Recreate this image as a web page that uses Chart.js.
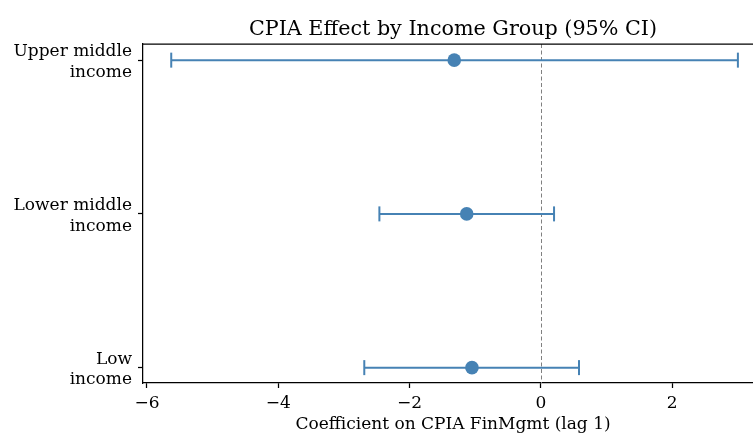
<!DOCTYPE html>
<html>
<head>
<meta charset="utf-8">
<script src="https://cdn.jsdelivr.net/npm/chart.js@4"></script>
<style>
  html, body { margin: 0; padding: 0; background: #fff; }
  #wrap { width: 753px; height: 433px; }
</style>
</head>
<body>
<div id="wrap"><canvas id="c" width="753" height="433"></canvas></div>
<script>
// Income groups, top to bottom
const groups = [["Upper middle", "income"], ["Lower middle", "income"], ["Low", "income"]];
// Point estimates and 95% confidence bounds
const coef   = [-1.32, -1.13, -1.05];
const ciLow  = [-5.63, -2.46, -2.69];
const ciHigh = [ 3.00,  0.20,  0.58];
const xTicks = [-6, -4, -2, 0, 2];

const BLUE = '#4682b4';
const FONT = "'DejaVu Serif', serif";

// One line dataset per interval
const intervalSets = groups.map((g, i) => ({
  type: 'line',
  data: [{ x: ciLow[i], y: i }, { x: ciHigh[i], y: i }],
  borderColor: BLUE,
  borderWidth: 2,
  pointRadius: 0,
  showLine: true,
  order: 2
}));

// Caps at both ends of each interval
const caps = [];
groups.forEach((g, i) => {
  caps.push({ x: ciLow[i], y: i });
  caps.push({ x: ciHigh[i], y: i });
});

const frame = {
  id: 'frame',
  beforeDatasetsDraw(chart) {
    const { ctx, chartArea: a, scales } = chart;
    // zero reference line
    const x0 = scales.x.getPixelForValue(0);
    ctx.save();
    ctx.strokeStyle = '#808080';
    ctx.lineWidth = 1;
    ctx.setLineDash([4, 2.5]);
    ctx.beginPath();
    ctx.moveTo(Math.round(x0) + 0.5, a.top);
    ctx.lineTo(Math.round(x0) + 0.5, a.bottom);
    ctx.stroke();
    ctx.restore();
  },
  afterDraw(chart) {
    const { ctx, chartArea: a } = chart;
    ctx.save();
    // top spine
    ctx.strokeStyle = '#000';
    ctx.lineWidth = 1.25;
    ctx.beginPath();
    ctx.moveTo(a.left, a.top);
    ctx.lineTo(chart.width, a.top);
    ctx.stroke();
    // title and x-axis label
    ctx.fillStyle = '#000';
    ctx.textAlign = 'center';
    ctx.textBaseline = 'alphabetic';
    ctx.font = `20.7px ${FONT}`;
    ctx.fillText('CPIA Effect by Income Group (95% CI)', 453, 35);
    ctx.font = `17px ${FONT}`;
    ctx.fillText('Coefficient on CPIA FinMgmt (lag 1)', 453, 429);
    ctx.restore();
  }
};

new Chart(document.getElementById('c'), {
  type: 'scatter',
  data: {
    datasets: [
      ...intervalSets,
      {
        data: caps,
        pointStyle: 'line',
        rotation: 90,
        pointRadius: 7.5,
        pointBorderWidth: 2,
        borderColor: BLUE,
        backgroundColor: BLUE,
        order: 1
      },
      {
        data: coef.map((v, i) => ({ x: v, y: i })),
        pointRadius: 6.8,
        pointBorderWidth: 0,
        backgroundColor: BLUE,
        borderColor: BLUE,
        order: 0
      }
    ]
  },
  options: {
    responsive: false,
    animation: false,
    layout: { autoPadding: false, padding: { top: 44, right: 0, left: 0, bottom: 0 } },
    plugins: { legend: { display: false }, tooltip: { enabled: false }, title: { display: false } },
    scales: {
      x: {
        type: 'linear',
        min: -6.06,
        max: 3.23,
        afterBuildTicks(s) { s.ticks = xTicks.map(v => ({ value: v })); },
        afterFit(s) { s.height = 50; },
        ticks: {
          color: '#000',
          font: { family: FONT, size: 17 },
          padding: 5,
          maxRotation: 0,
          callback: v => String(v).replace('-', '\u2212')
        },
        grid: { drawOnChartArea: false, tickLength: 5, color: '#000', tickWidth: 1.25 },
        border: { display: true, color: '#000', width: 1.25 }
      },
      y: {
        type: 'linear',
        reverse: true,
        min: -0.105,
        max: 2.1,
        afterBuildTicks(s) { s.ticks = groups.map((g, i) => ({ value: i })); },
        afterFit(s) { s.width = 143; },
        ticks: {
          color: '#000',
          font: { family: FONT, size: 17, lineHeight: 1.2 },
          padding: 6,
          labelOffset: 2,
          callback: v => groups[v]
        },
        grid: { drawOnChartArea: false, tickLength: 5, color: '#000', tickWidth: 1.25 },
        border: { display: true, color: '#000', width: 1.25 }
      }
    }
  },
  plugins: [frame]
});
</script>
</body>
</html>
